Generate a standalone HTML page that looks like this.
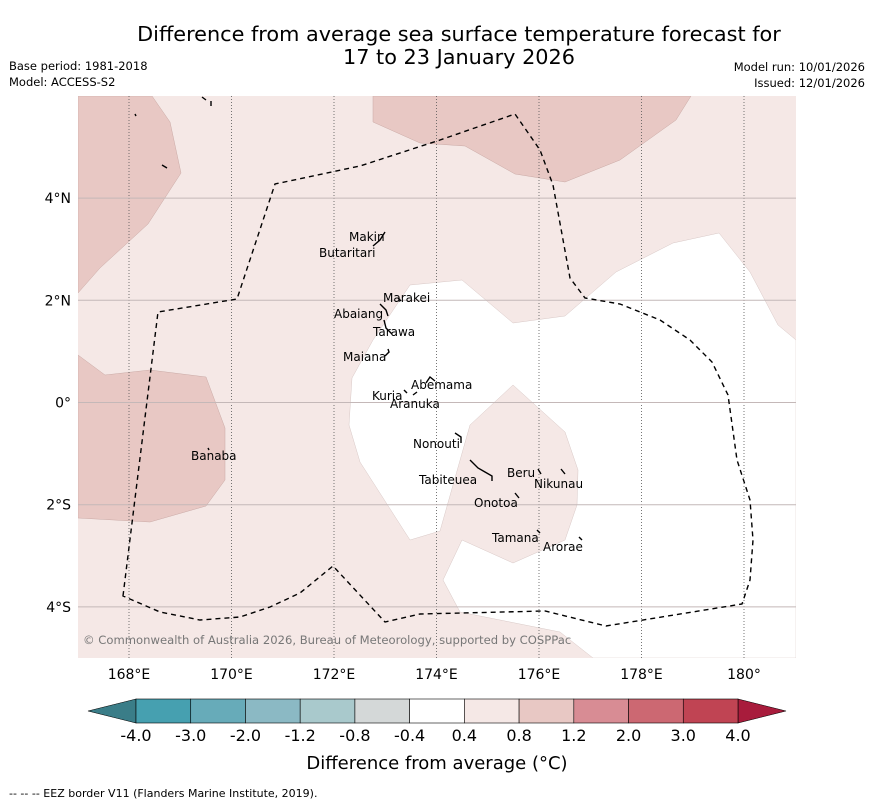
<!DOCTYPE html>
<html><head><meta charset="utf-8">
<style>
body{margin:0;background:#fff;width:873px;height:804px;overflow:hidden;font-family:"DejaVu Sans","Liberation Sans",sans-serif;}
svg{display:block}
</style></head>
<body>
<svg id="chart" width="873" height="804" viewBox="0 0 873 804">
<text x="459" y="41" font-size="20.8" text-anchor="middle">Difference from average sea surface temperature forecast for</text>
<text x="459" y="64" font-size="20.8" text-anchor="middle">17 to 23 January 2026</text>
<text x="9" y="70" font-size="11.5">Base period: 1981-2018</text>
<text x="9" y="86" font-size="11.5">Model: ACCESS-S2</text>
<text x="865" y="71" font-size="11.5" text-anchor="end">Model run: 10/01/2026</text>
<text x="865" y="87" font-size="11.5" text-anchor="end">Issued: 12/01/2026</text>

<defs><clipPath id="mapclip"><rect x="78" y="96" width="718" height="562"/></clipPath></defs>
<g clip-path="url(#mapclip)">
<rect x="78" y="96" width="718" height="562" fill="#f5e8e6"/>
<path d="M78,96 L152,96 L170,122 L181,173 L148,224 L100,268 L78,293 Z" fill="#e8c8c4" stroke="#c9a9a5" stroke-width="0.5"/>
<path d="M373,96 L691,96 L676,120 L620,160 L565,182 L515,174 L465,146 L420,143 L373,122 Z" fill="#e8c8c4" stroke="#c9a9a5" stroke-width="0.5"/>
<path d="M78,355 L105,375 L150,370 L206,377 L225,428 L225,480 L206,506 L150,522 L78,518 Z" fill="#e8c8c4" stroke="#c9a9a5" stroke-width="0.5"/>
<path d="M410,285 L462,280 L513,323 L565,316 L616,272 L673,243 L719,233 L750,272 L778,325 L796,340 L796,658 L593,658 L560,632 L460,612 L443,580 L462,540 L513,563 L565,540 L577,505 L578,470 L565,432 L513,385 L470,425 L440,531 L410,540 L360,462 L349,425 L352,378 L373,340 Z" fill="#ffffff" stroke="#d8c8c6" stroke-width="0.5"/>
<g id="grid"></g>
<path d="M123,596 L158,312 L237,299 L275,184 L360,166 L440,140 L515,114 L540,150 L553,185 L570,278 L585,298 L620,304 L660,320 L690,340 L712,362 L728,395 L737,460 L750,500 L753,540 L750,580 L742,604 L606,626 L545,611 L420,614 L385,622 L333,566 L300,593 L270,607 L240,617 L200,620 L160,612 Z" fill="none" stroke="#000" stroke-width="1.4" stroke-dasharray="5,4"/>
<g fill="none" stroke="#000" stroke-width="1.4">
<path d="M373,246 L380,240 L385,232"/><path d="M380,304 L386,310 L388,316"/><path d="M398,298 L401,301"/><path d="M384,320 L386,328 L392,334"/><path d="M385,356 L389,352 L388,349"/><path d="M426,383 L430,377 L435,381"/><path d="M404,390 L407,393"/><path d="M413,395 L417,392"/><path d="M455,433 L461,437 L461,443"/><path d="M470,460 L478,468 L485,472 L492,476 L492,481"/><path d="M538,469 L541,474"/><path d="M561,469 L565,474"/><path d="M515,493 L519,498"/><path d="M537,530 L540,533"/><path d="M579,537 L582,540"/><path d="M208,448 L209,450"/><path d="M135,114 L136,116"/><path d="M202,97 L206,100"/><path d="M211,101 L211,106"/><path d="M162,165 L167,168"/>
</g>
<g font-size="12">
<text x="349" y="241">Makin</text><text x="319" y="257">Butaritari</text><text x="383" y="302">Marakei</text><text x="334" y="318">Abaiang</text><text x="373" y="336">Tarawa</text><text x="343" y="361">Maiana</text><text x="411" y="389">Abemama</text><text x="372" y="400">Kuria</text><text x="390" y="408">Aranuka</text><text x="413" y="448">Nonouti</text><text x="507" y="477">Beru</text><text x="419" y="484">Tabiteuea</text><text x="534" y="488">Nikunau</text><text x="474" y="507">Onotoa</text><text x="492" y="542">Tamana</text><text x="543" y="551">Arorae</text><text x="191" y="460">Banaba</text>
</g>
<text x="83" y="644" font-size="11.6" fill="#777">© Commonwealth of Australia 2026, Bureau of Meteorology, supported by COSPPac</text>
</g>
<g id="axes" font-size="14"></g>
<g id="colorbar"></g>
<text x="437" y="769" font-size="18" text-anchor="middle">Difference from average (°C)</text>
<text x="9" y="797" font-size="11">--  --  -- EEZ border V11 (Flanders Marine Institute, 2019).</text>
</svg>
<script>
const lonTicks=[168,170,172,174,176,178,180];
const lonLabels=["168°E","170°E","172°E","174°E","176°E","178°E","180°"];
const latTicks=[4,2,0,-2,-4];
const latLabels=["4°N","2°N","0°","2°S","4°S"];
const cbBounds=["-4.0","-3.0","-2.0","-1.2","-0.8","-0.4","0.4","0.8","1.2","2.0","3.0","4.0"];
const cbColors=["#46a0b0","#67abb9","#8bb9c4","#a9c9cc","#d4d8d8","#ffffff","#f5e8e6","#e8c8c4","#d88c94","#cc6872","#c04453"];
const NS="http://www.w3.org/2000/svg";
function xLon(l){return 129+(l-168)*51.25;}
function yLat(l){return 402.5-l*51.1;}
function mk(t,a,p){const e=document.createElementNS(NS,t);for(const k in a)e.setAttribute(k,a[k]);p.appendChild(e);return e;}
const grid=document.getElementById('grid'),axes=document.getElementById('axes'),cb=document.getElementById('colorbar');
lonTicks.forEach((l,i)=>{
 const ln=mk('line',{x1:xLon(l),x2:xLon(l),y1:96,y2:658,stroke:'#555','stroke-width':0.8,'stroke-dasharray':'1,2'},grid);
 
 
 const t=mk('text',{x:xLon(l),y:679,'text-anchor':'middle'},axes);t.textContent=lonLabels[i];
 
 
});
latTicks.forEach((l,i)=>{
 const ln=mk('line',{x1:78,x2:796,y1:yLat(l),y2:yLat(l),stroke:'#c4b8b8','stroke-width':1},grid);
 
 
 const t=mk('text',{x:71,y:yLat(l)+5,'text-anchor':'end'},axes);t.textContent=latLabels[i];
 
 
});
const cx0=136,cx1=738,cy=699,ch=24,n=cbColors.length,w=(cx1-cx0)/n;
const lt=mk('polygon',{points:`${cx0},${cy} 88,${cy+ch/2} ${cx0},${cy+ch}`,fill:'#3a7d88',stroke:'#000','stroke-width':0.6},cb);


const rt=mk('polygon',{points:`${cx1},${cy} 786,${cy+ch/2} ${cx1},${cy+ch}`,fill:'#a81c3c',stroke:'#000','stroke-width':0.6},cb);


cbColors.forEach((c,i)=>{
 const r=mk('rect',{x:cx0+i*w,y:cy,width:w,height:ch,fill:c,stroke:'#000','stroke-width':0.6},cb);
 
 
});
cbBounds.forEach((b,i)=>{
 const t=mk('text',{x:cx0+i*w,y:741,'text-anchor':'middle','font-size':16},cb);t.textContent=b;
 
 
});
</script>
</body></html>
